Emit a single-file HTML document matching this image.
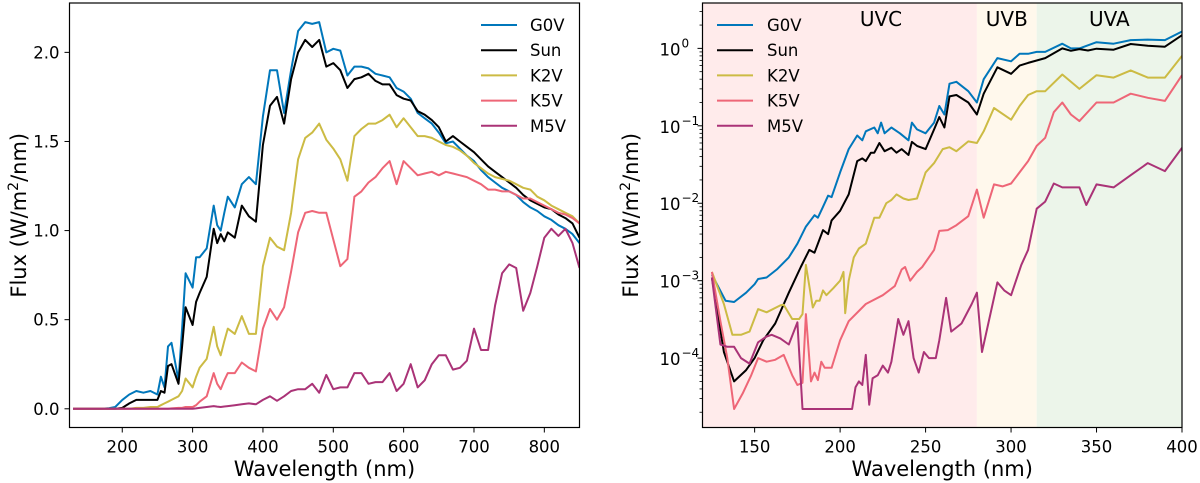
<!DOCTYPE html>
<html><head><meta charset="utf-8"><style>
html,body{margin:0;padding:0;background:#fff;}
svg{display:block;font-family:"DejaVu Sans","Liberation Sans",sans-serif;}
</style></head><body>
<svg id="fig" width="1200" height="483" viewBox="0 0 1200 483" xmlns="http://www.w3.org/2000/svg"></svg>
<script>
// ---------- Left panel data (linear) ----------
const wlL = [130,140,150,160,170,180,190,200,210,220,230,240,250,255,260,265,270,280,285,290,300,305,310,320,330,335,340,345,350,360,370,380,390,400,410,420,430,440,450,460,470,480,490,500,510,520,530,540,550,560,570,580,590,600,610,620,630,640,650,660,670,680,690,700,710,720,730,740,750,760,770,780,790,800,810,820,830,840,850];
const g0vL = [0,0,0,0,0,0.003,0.01,0.05,0.08,0.1,0.09,0.1,0.08,0.18,0.12,0.35,0.37,0.16,0.45,0.76,0.68,0.85,0.85,0.9,1.14,1.03,1.0,1.1,1.19,1.13,1.26,1.3,1.26,1.64,1.9,1.9,1.66,1.9,2.12,2.17,2.16,2.17,2.0,2.02,2.01,1.87,1.92,1.92,1.91,1.88,1.87,1.86,1.8,1.78,1.74,1.66,1.63,1.6,1.55,1.49,1.5,1.46,1.42,1.39,1.34,1.3,1.27,1.24,1.22,1.2,1.16,1.13,1.11,1.08,1.06,1.03,1.01,0.98,0.93];
const sunL = [0,0,0,0,0,0,0,0.005,0.03,0.05,0.05,0.05,0.05,0.1,0.09,0.24,0.25,0.14,0.35,0.57,0.47,0.6,0.65,0.74,1.01,0.93,0.98,0.94,0.99,0.96,1.14,1.08,1.05,1.48,1.7,1.75,1.6,1.85,2.0,2.07,2.03,2.07,1.92,1.94,1.9,1.8,1.85,1.86,1.88,1.84,1.82,1.82,1.76,1.74,1.73,1.67,1.65,1.62,1.58,1.5,1.53,1.5,1.47,1.44,1.4,1.36,1.33,1.3,1.27,1.24,1.2,1.17,1.15,1.13,1.12,1.09,1.07,1.04,0.96];
const k2vL = [0,0,0,0,0,0,0,0,0,0.005,0.005,0.01,0.01,0.02,0.03,0.04,0.05,0.07,0.1,0.17,0.12,0.18,0.23,0.28,0.46,0.35,0.3,0.38,0.45,0.42,0.52,0.42,0.42,0.8,0.96,0.91,0.89,1.1,1.4,1.52,1.55,1.6,1.51,1.46,1.4,1.28,1.53,1.57,1.6,1.6,1.62,1.65,1.58,1.63,1.58,1.53,1.53,1.52,1.5,1.48,1.47,1.45,1.42,1.38,1.35,1.32,1.3,1.29,1.28,1.26,1.24,1.23,1.19,1.17,1.14,1.12,1.1,1.08,1.04];
const k5vL = [0,0,0,0,0,0,0,0,0,0,0,0,0,0,0,0,0.002,0.005,0.005,0.01,0.01,0.02,0.04,0.07,0.2,0.14,0.11,0.16,0.2,0.2,0.26,0.23,0.21,0.45,0.56,0.5,0.57,0.77,0.99,1.1,1.11,1.1,1.1,0.95,0.8,0.84,1.19,1.22,1.27,1.3,1.35,1.39,1.26,1.39,1.35,1.31,1.32,1.33,1.31,1.33,1.32,1.31,1.3,1.28,1.26,1.23,1.23,1.22,1.22,1.2,1.18,1.18,1.16,1.14,1.12,1.1,1.09,1.07,1.04];
const m5vL = [0,0,0,0,0,0,0,0,0,0,0,0,0,0,0,0,0,0,0,0,0,0.002,0.005,0.01,0.015,0.012,0.01,0.013,0.015,0.02,0.025,0.03,0.025,0.05,0.07,0.045,0.07,0.1,0.11,0.11,0.14,0.09,0.19,0.11,0.12,0.12,0.2,0.2,0.14,0.15,0.15,0.2,0.1,0.14,0.25,0.12,0.16,0.25,0.3,0.3,0.22,0.23,0.27,0.45,0.33,0.33,0.58,0.76,0.81,0.79,0.55,0.65,0.8,0.96,1.01,0.97,1.01,0.93,0.79];
const xTicksL = [200,300,400,500,600,700,800];
const yTicksL = [0,0.5,1.0,1.5,2.0];
const yTickLabelsL = ["0.0","0.5","1.0","1.5","2.0"];

// ---------- Right panel data (log) ----------
const g0vWl = [125,133,138,145,150,152,157,163,170,175,180,185,187,190,193,195,200,205,210,213,215,220,222,224,226,230,235,240,242,245,250,255,258,261,264,268,275,280,284,292,300,305,310,315,320,330,335,340,350,360,370,380,390,400];
const g0vR = [1.2e-3,5.5e-4,5.3e-4,7e-4,9e-4,1.05e-3,1.1e-3,1.4e-3,2e-3,3e-3,5e-3,7e-3,6.5e-3,9e-3,1.25e-2,1.2e-2,2.5e-2,5e-2,7.5e-2,6.5e-2,8.5e-2,9.5e-2,8e-2,1.1e-1,8e-2,9.5e-2,8e-2,6.5e-2,1.1e-1,9e-2,8e-2,1.1e-1,1.8e-1,1.4e-1,3.5e-1,3.7e-1,2.8e-1,2e-1,4e-1,7.5e-1,6.8e-1,8.5e-1,8.5e-1,9e-1,9e-1,1.15,1.0,1.0,1.2,1.15,1.28,1.3,1.28,1.65];
const sunWl = [125,132,138,145,150,155,162,170,177,182,185,190,193,195,200,205,210,213,215,218,220,223,226,230,233,236,240,242,245,250,255,258,261,264,268,275,280,284,292,300,305,310,320,330,335,340,345,350,360,370,380,390,400];
const sunR = [1.1e-3,1.2e-4,5e-5,7e-5,1e-4,1.7e-4,2.8e-4,7e-4,1.5e-3,2.5e-3,2.3e-3,4.5e-3,4e-3,6e-3,8e-3,1.3e-2,3.5e-2,3.8e-2,3.5e-2,4.5e-2,4.5e-2,6e-2,4.7e-2,5.2e-2,4.5e-2,5e-2,4.2e-2,6.2e-2,5.5e-2,5e-2,9e-2,1.3e-1,9.5e-2,2.4e-1,2.5e-1,2e-1,1.4e-1,2.6e-1,5.7e-1,4.7e-1,6e-1,6.5e-1,7.5e-1,1.0,0.93,0.98,0.94,0.99,0.96,1.14,1.08,1.05,1.48];
const k2vWl = [125,132,137,142,147,152,157,165,167,172,176,178,180,184,186,188,190,192,196,200,202,203,205,208,211,215,220,223,227,230,233,237,240,245,250,255,260,264,268,275,280,284,290,300,305,310,315,320,330,340,350,360,370,380,390,400];
const k2vR = [1.3e-3,5e-4,2e-4,2e-4,2.2e-4,4.3e-4,3.9e-4,4.8e-4,4.9e-4,3.2e-4,3.2e-4,3.7e-4,1.6e-3,4.5e-4,5.5e-4,5.5e-4,7.5e-4,6.5e-4,8e-4,1e-3,1.3e-3,3.8e-4,1e-3,2e-3,2.6e-3,3e-3,6.5e-3,6.5e-3,1e-2,1.1e-2,1.3e-2,1.15e-2,1.1e-2,1.15e-2,2.5e-2,3.3e-2,5e-2,5.3e-2,4.7e-2,6.3e-2,6e-2,8.5e-2,1.7e-1,1.2e-1,1.8e-1,2.5e-1,2.8e-1,2.8e-1,4.6e-1,3e-1,4.5e-1,4.2e-1,5.2e-1,4.2e-1,4.2e-1,8e-1];
const k5vWl = [125,130,134,138,143,148,152,157,162,167,172,175,178,180,183,185,187,189,191,195,200,205,215,225,232,236,238,241,245,248,255,258,263,268,275,280,284,290,295,300,310,315,320,325,330,335,340,350,360,370,380,390,400];
const k5vR = [1.3e-3,3e-4,1e-4,2.2e-5,3.5e-5,6e-5,1e-4,9e-5,9.5e-5,1.1e-4,6e-5,4.5e-5,4.8e-5,3.7e-4,5e-5,6.5e-5,5.2e-5,9e-5,7.5e-5,7.5e-5,1.7e-4,3e-4,5e-4,6.5e-4,8.5e-4,1.4e-3,1.5e-3,1e-3,1.3e-3,1.5e-3,2.5e-3,4.4e-3,4.5e-3,5.2e-3,6.8e-3,1.5e-2,6.5e-3,1.75e-2,1.65e-2,1.8e-2,3.5e-2,5.5e-2,7e-2,1.5e-1,2e-1,1.4e-1,1.15e-1,2e-1,2e-1,2.6e-1,2.3e-1,2.1e-1,4.5e-1];
const m5vWl = [125,130,134,138,142,147,152,157,160,165,170,175,178,185,200,207,209,211,213,215,217,219,222,225,228,230,234,237,240,243,246,249,252,256,258,262,265,271,277,280,283,292,296,300,306,310,315,320,325,330,340,344,350,360,370,380,390,400];
const m5vR = [1.1e-3,1.5e-4,1.4e-4,1.4e-4,1e-4,8.5e-5,1.6e-4,1.9e-4,2e-4,1.8e-4,1.5e-4,2.9e-4,2.2e-5,2.2e-5,2.2e-5,2.2e-5,4.2e-5,5e-5,4.5e-5,1.1e-4,2.5e-5,5.5e-5,6e-5,8e-5,6.5e-5,9e-5,3.2e-4,2e-4,3e-4,1e-4,6.5e-5,1.2e-4,1e-4,1e-4,1.7e-4,6e-4,2.2e-4,2.8e-4,5e-4,7e-4,1.2e-4,9.5e-4,7.5e-4,6.5e-4,1.6e-3,2.5e-3,8.5e-3,1.05e-2,1.8e-2,1.6e-2,1.6e-2,9.5e-3,1.75e-2,1.6e-2,2.3e-2,3.3e-2,2.6e-2,5.2e-2];
const xTicksR = [150,200,250,300,350,400];
const yDecadesR = [0,-1,-2,-3,-4];
const bands = ["UVC","UVB","UVA"];
const bandEdges = [119.5,280,315,400];

const seriesNames = ["G0V","Sun","K2V","K5V","M5V"];
const colors = ["#0077bb","#000000","#ccbb44","#ee6677","#aa3377"];

const NS = "http://www.w3.org/2000/svg";
const fig = document.getElementById("fig");
function el(tag, attrs, parent, text){
  const e = document.createElementNS(NS, tag);
  for (const k in attrs) e.setAttribute(k, attrs[k]);
  if (text !== undefined) e.textContent = text;
  (parent||fig).appendChild(e);
  return e;
}

// ---------- Left axes ----------
const L = {x0:69.5, x1:579.5, y0:3, y1:427.5, xmin:125, xmax:850, ymin:-0.105, ymax:2.277};
const xL = v => L.x0 + (v - L.xmin)/(L.xmax - L.xmin)*(L.x1 - L.x0);
const yL = v => L.y1 - (v - L.ymin)/(L.ymax - L.ymin)*(L.y1 - L.y0);

const gLeft = el("g", {});


const clipL = el("clipPath", {id:"clipL"}, gLeft);
el("rect", {x:L.x0, y:L.y0, width:L.x1-L.x0, height:L.y1-L.y0}, clipL);

const leftData = [g0vL, sunL, k2vL, k5vL, m5vL];
leftData.forEach((arr, i) => {
  const pts = arr.map((v, j) => xL(wlL[j]).toFixed(1) + "," + yL(v).toFixed(1)).join(" ");
  const p = el("polyline", {points:pts, fill:"none", stroke:colors[i], "stroke-width":2, "stroke-linejoin":"round", "clip-path":"url(#clipL)"}, gLeft);
  
  
});
el("rect", {x:L.x0, y:L.y0, width:L.x1-L.x0, height:L.y1-L.y0, fill:"none", stroke:"#000", "stroke-width":1.2}, gLeft);
xTicksL.forEach(t => {
  const x = xL(t);
  el("line", {x1:x, x2:x, y1:L.y1, y2:L.y1+5, stroke:"#000", "stroke-width":1}, gLeft);
  const tx = el("text", {x:x, y:L.y1+25, "font-size":16.5, "text-anchor":"middle"}, gLeft, String(t));
  
  
});
yTicksL.forEach((t, i) => {
  const y = yL(t);
  el("line", {x1:L.x0-5, x2:L.x0, y1:y, y2:y, stroke:"#000", "stroke-width":1}, gLeft);
  const tx = el("text", {x:L.x0-10, y:y+6, "font-size":16.5, "text-anchor":"end"}, gLeft, yTickLabelsL[i]);
  
  
});
const xtL = el("text", {x:(L.x0+L.x1)/2, y:476, "font-size":21, "text-anchor":"middle"}, gLeft, "Wavelength (nm)");


const ytL = el("text", {transform:"translate(26,"+((L.y0+L.y1)/2)+") rotate(-90)", "font-size":21, "text-anchor":"middle"}, gLeft);


ytL.innerHTML = 'Flux (W/m<tspan font-size="14" dy="-8">2</tspan><tspan dy="8">/nm)</tspan>';

// legend left
seriesNames.forEach((n, i) => {
  const y = 25 + i*25.2;
  const g = el("g", {}, gLeft);
  
  
  el("line", {x1:481, x2:517, y1:y, y2:y, stroke:colors[i], "stroke-width":2}, g);
  el("text", {x:530, y:y+6, "font-size":16.5}, g, n);
});

// ---------- Right axes ----------
const R = {x0:702.5, x1:1182, y0:3, y1:427.5, xmin:119.5, xmax:400, lmin:-4.896, lmax:0.586};
const xR = v => R.x0 + (v - R.xmin)/(R.xmax - R.xmin)*(R.x1 - R.x0);
const yR = v => R.y1 - (Math.log10(v) - R.lmin)/(R.lmax - R.lmin)*(R.y1 - R.y0);
const yRl = l => R.y1 - (l - R.lmin)/(R.lmax - R.lmin)*(R.y1 - R.y0);

const gRight = el("g", {});


const bandColors = ["#ffebeb","#fff8ec","#ecf5ea"];
bands.forEach((b, i) => {
  const x0 = xR(bandEdges[i]), x1 = xR(bandEdges[i+1]);
  const r = el("rect", {x:x0, y:R.y0, width:x1-x0, height:R.y1-R.y0, fill:bandColors[i]}, gRight);
  
  
  const t = el("text", {x:(i===0? 881 : (x0+x1)/2), y:26, "font-size":20, "text-anchor":"middle"}, gRight, b);
  
  
});
const clipR = el("clipPath", {id:"clipR"}, gRight);
el("rect", {x:R.x0, y:R.y0, width:R.x1-R.x0, height:R.y1-R.y0}, clipR);
const rightWl = [g0vWl, sunWl, k2vWl, k5vWl, m5vWl];
const rightData = [g0vR, sunR, k2vR, k5vR, m5vR];
rightData.forEach((arr, i) => {
  const pts = arr.map((v, j) => xR(rightWl[i][j]).toFixed(1) + "," + yR(v).toFixed(1)).join(" ");
  const p = el("polyline", {points:pts, fill:"none", stroke:colors[i], "stroke-width":2, "stroke-linejoin":"round", "clip-path":"url(#clipR)"}, gRight);
  
  
});
el("rect", {x:R.x0, y:R.y0, width:R.x1-R.x0, height:R.y1-R.y0, fill:"none", stroke:"#000", "stroke-width":1.2}, gRight);
xTicksR.forEach(t => {
  const x = xR(t);
  el("line", {x1:x, x2:x, y1:R.y1, y2:R.y1+5, stroke:"#000", "stroke-width":1}, gRight);
  const tx = el("text", {x:x, y:R.y1+25, "font-size":16.5, "text-anchor":"middle"}, gRight, String(t));
  
  
});
for (let d = -5; d <= 0; d++) {
  for (let m = 2; m <= 9; m++) {
    const l = d + Math.log10(m);
    if (l < R.lmin || l > R.lmax) continue;
    const y = yRl(l);
    el("line", {x1:R.x0-3, x2:R.x0, y1:y, y2:y, stroke:"#000", "stroke-width":0.8}, gRight);
  }
}
yDecadesR.forEach(d => {
  const y = yRl(d);
  el("line", {x1:R.x0-5, x2:R.x0, y1:y, y2:y, stroke:"#000", "stroke-width":1}, gRight);
  const tx = el("text", {x:R.x0-22, y:y+7, "font-size":16.5, "text-anchor":"end"}, gRight, "10");
  
  
  el("text", {x:R.x0-21, y:y-1, "font-size":12, "text-anchor":"start"}, gRight, d === 0 ? "0" : "\u2212" + (-d));
});
const xtR = el("text", {x:(R.x0+R.x1)/2, y:476, "font-size":21, "text-anchor":"middle"}, gRight, "Wavelength (nm)");


const ytR = el("text", {transform:"translate(638,"+((R.y0+R.y1)/2)+") rotate(-90)", "font-size":21, "text-anchor":"middle"}, gRight);


ytR.innerHTML = 'Flux (W/m<tspan font-size="14" dy="-8">2</tspan><tspan dy="8">/nm)</tspan>';

seriesNames.forEach((n, i) => {
  const y = 25 + i*25.2;
  const g = el("g", {}, gRight);
  
  
  el("line", {x1:717, x2:753, y1:y, y2:y, stroke:colors[i], "stroke-width":2}, g);
  el("text", {x:767, y:y+6, "font-size":16.5}, g, n);
});
</script>
</body></html>
